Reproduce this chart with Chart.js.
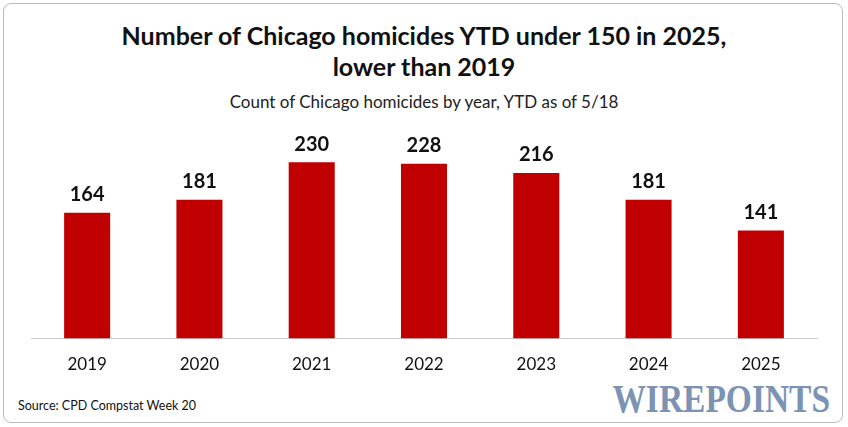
<!DOCTYPE html>
<html><head><meta charset="utf-8">
<script src="https://cdn.jsdelivr.net/npm/chart.js@4"></script>
<style>
body{margin:0;background:#fff;font-family:Lato,"Open Sans",sans-serif;}
#wrap{position:relative;width:848px;height:427px;}
#frame{position:absolute;left:3px;top:3px;width:838px;height:418px;border:1px solid #bbb;border-radius:8px;}
.t{position:absolute;left:0;width:848px;text-align:center;color:#111;}
#title{top:20px;font-size:25px;font-weight:bold;line-height:31px;}
#sub{top:91px;font-size:17px;color:#222;}
#src{position:absolute;left:18px;top:398px;font-size:12.5px;color:#111;}
#logo{position:absolute;right:18px;top:378px;font-family:"Liberation Serif",serif;font-weight:bold;font-size:36px;color:#7d93b3;transform:scaleX(0.93) scaleY(1.12);transform-origin:right center;}
canvas{position:absolute;left:0;top:0;}
</style></head><body>
<div id="wrap">
<div id="frame"></div>
<div class="t" id="title">Number of Chicago homicides YTD under 150 in 2025,<br>lower than 2019</div>
<div class="t" id="sub">Count of Chicago homicides by year, YTD as of 5/18</div>
<div id="src">Source: CPD Compstat Week 20</div>
<div id="logo">WIREPOINTS</div>
<canvas id="c" width="848" height="427"></canvas>
</div>
<script>
const years=["2019","2020","2021","2022","2023","2024","2025"];
const homicides=[164,181,230,228,216,181,141];
const labelPlugin={id:'lbl',afterDatasetsDraw(ch){const ctx=ch.ctx;const m=ch.getDatasetMeta(0);ctx.save();ctx.font='bold 20px Lato';ctx.fillStyle='#111';ctx.textAlign='center';ctx.textBaseline='bottom';m.data.forEach((b,i)=>ctx.fillText(homicides[i],b.x,b.y-8));ctx.restore();}};
new Chart(document.getElementById('c'),{type:'bar',
data:{labels:years,datasets:[{data:homicides,backgroundColor:'#c00000',categoryPercentage:1,barPercentage:0.41}]},
options:{responsive:false,animation:false,layout:{padding:{top:120,bottom:44,left:31,right:31}},
plugins:{legend:{display:false},tooltip:{enabled:false}},
scales:{y:{display:false,min:0,max:285},
x:{grid:{display:false},border:{color:'#ccc',width:1},ticks:{color:'#111',font:{size:17,family:'Lato'},padding:8}}}},
plugins:[labelPlugin]});
</script>
</body></html>
